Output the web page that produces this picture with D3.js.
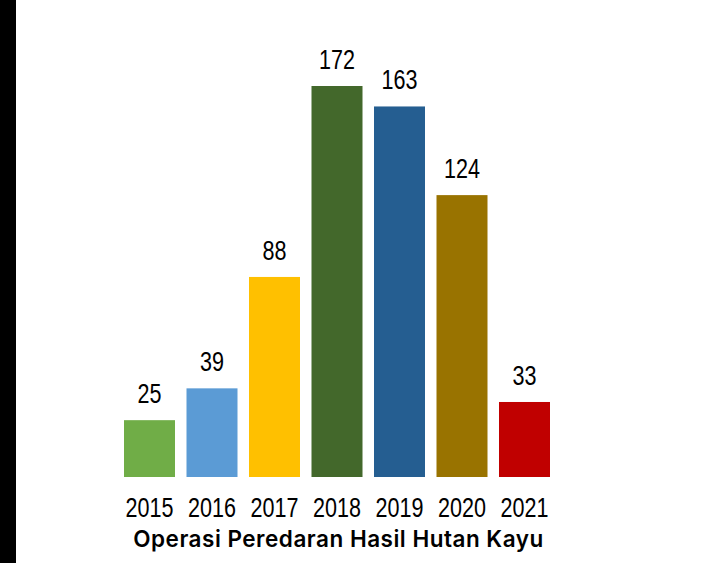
<!DOCTYPE html>
<html>
<head>
<meta charset="utf-8">
<script src="https://cdn.jsdelivr.net/npm/d3@7"></script>
<style>
  html, body { margin: 0; padding: 0; background: #fff; }
  svg { display: block; }
</style>
</head>
<body>
<svg id="chart" width="718" height="563"></svg>
<script>
// Data
const years = ["2015", "2016", "2017", "2018", "2019", "2020", "2021"];
const values = [25, 39, 88, 172, 163, 124, 33];
const colors = ["#70AD47", "#5B9BD5", "#FFC000", "#43682B", "#255E91", "#997300", "#C00000"];
const title = "Operasi Peredaran Hasil Hutan Kayu";

const svg = d3.select("#chart");
const W = 718, H = 563;

// Dark strip along the left edge
svg.append("rect").attr("x", 0).attr("y", 0).attr("width", 16).attr("height", H).attr("fill", "#000");

const baseline = 477;
const x = d3.scaleBand().domain(years).range([118.25, 555.75]).paddingInner(0.184).paddingOuter(0.092);
const y = d3.scaleLinear().domain([0, 172]).range([baseline, 86]);

// Narrow numerals: regular sans compressed horizontally
const numFont = "'Liberation Sans', Arial, sans-serif";
const numSize = 28;
const squeeze = 0.77;

const g = svg.append("g");
g.selectAll("rect.bar")
  .data(values)
  .join("rect")
  .attr("class", "bar")
  .attr("x", (d, i) => x(years[i]))
  .attr("y", d => y(d))
  .attr("width", x.bandwidth())
  .attr("height", d => baseline - y(d))
  .attr("fill", (d, i) => colors[i]);

// Value labels
g.selectAll("text.val")
  .data(values)
  .join("text")
  .attr("class", "val")
  .attr("transform", (d, i) => `translate(${x(years[i]) + x.bandwidth() / 2},${y(d) - 17}) scale(${squeeze},1)`)
  .attr("text-anchor", "middle")
  .style("font-family", numFont)
  .style("font-size", numSize + "px")
  .attr("fill", "#000")
  .text(d => d);

// Category axis (labels only)
const axis = svg.append("g")
  .attr("transform", `translate(0,${baseline})`)
  .call(d3.axisBottom(x).tickSize(0).tickPadding(0));
axis.select(".domain").remove();
axis.selectAll(".tick text")
  .attr("dy", null)
  .attr("y", 0)
  .attr("transform", `translate(0,40) scale(${squeeze},1)`)
  .style("font-family", numFont)
  .style("font-size", numSize + "px")
  .attr("fill", "#000");

// Title below the axis
svg.append("text")
  .attr("x", 338.5)
  .attr("y", 547)
  .attr("text-anchor", "middle")
  .style("font-family", "Inter, 'Liberation Sans', Arial, sans-serif")
  .style("font-weight", "600")
  .style("font-size", "22.5px")
  .style("letter-spacing", "0.5px")
  .attr("fill", "#000")
  .text(title);
</script>
</body>
</html>
